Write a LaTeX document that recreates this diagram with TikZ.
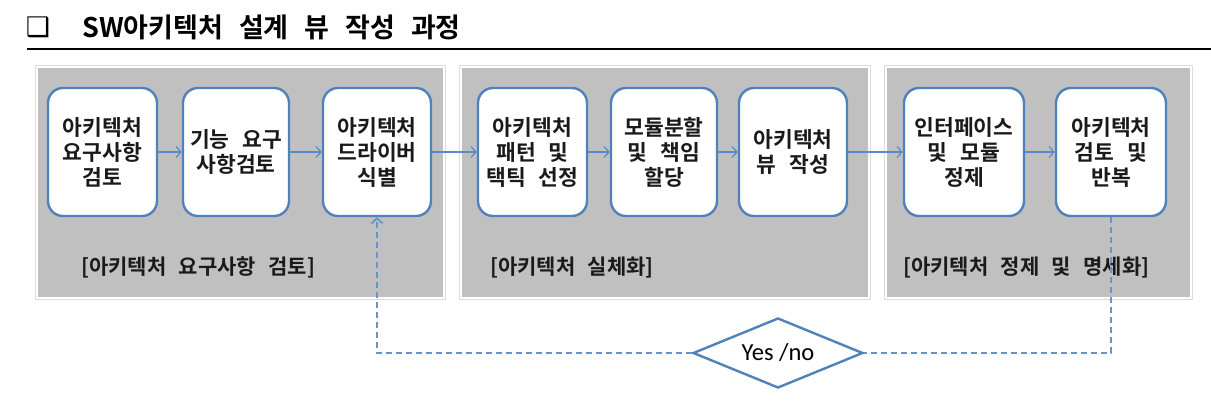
\documentclass[tikz,border=0pt]{standalone}
\usepackage{fontspec}
\usetikzlibrary{arrows.meta,shapes.geometric}
\newfontfamily\krbox{Noto Sans CJK KR Bold}[WordSpace=1.3]
\newfontfamily\krlab{Noto Sans CJK KR Bold}[WordSpace=2.3]
\newfontfamily\krtitle{Noto Sans CJK KR Bold}[WordSpace=2.6]
\newfontfamily\latfont{Carlito}
\newfontfamily\symfont{DejaVu Sans}
\definecolor{boxblue}{HTML}{4F81BD}
\definecolor{arrowblue}{HTML}{5A8AC6}
\definecolor{dashblue}{HTML}{6A93C9}
\definecolor{panelgray}{HTML}{C0C0C0}
\definecolor{framegray}{HTML}{DCDCDC}
\definecolor{txt}{HTML}{1A1A1A}
\tikzset{
  stepbox/.style={draw=boxblue, line width=2.4pt, rounded corners=15pt, fill=white,
    minimum width=#1, minimum height=128pt, align=center, inner sep=0pt, text=txt,
    font=\krbox\fontsize{21.5}{25}\selectfont},
  panelfill/.style={fill=panelgray},
  panelframe/.style={draw=framegray, line width=1pt, fill=white},
  lab/.style={anchor=west, inner sep=0pt, text=txt, font=\krlab\fontsize{21}{22}\selectfont},
  flow/.style={draw=arrowblue, line width=1.2pt, -{Straight Barb[length=5pt,width=11pt]}},
  dashline/.style={draw=dashblue, line width=1.8pt, dash pattern=on 6pt off 4pt},
}
\begin{document}
\begin{tikzpicture}[x=1pt,y=-1pt]
\useasboundingbox (0,0) rectangle (1211,400);
% title
\node[inner sep=0pt, font=\symfont\bfseries\fontsize{27}{28}\selectfont] (chk) at (38,27) {❑};
\node[anchor=base west, inner sep=0pt, font=\krtitle\fontsize{27}{28}\selectfont] (title) at (82,37) {SW아키텍처 설계 뷰 작성 과정};
\draw[line width=1.5pt] (27,49) -- (1211,49);
% panels
\draw[panelframe] (35.5,65.5) rectangle (445.5,299.5);
\fill[panelfill] (38,68) rectangle (443,297);
\draw[panelframe] (459.5,65.5) rectangle (870.5,299.5);
\fill[panelfill] (462,68) rectangle (868,297);
\draw[panelframe] (884.5,65.5) rectangle (1192.5,299.5);
\fill[panelfill] (887,68) rectangle (1190,297);
% boxes
\node[stepbox=109pt] (b1) at (102.5,152) {아키텍처\\요구사항\\검토};
\node[stepbox=106pt] (b2) at (236,152) {기능 요구\\사항검토};
\node[stepbox=108pt] (b3) at (377,152) {아키텍처\\드라이버\\식별};
\node[stepbox=109pt] (b4) at (532.5,152) {아키텍처\\패턴 및\\택틱 선정};
\node[stepbox=106pt] (b5) at (664,152) {모듈분할\\및 책임\\할당};
\node[stepbox=108pt] (b6) at (793,152) {아키텍처\\뷰 작성};
\node[stepbox=120pt] (b7) at (964,152) {인터페이스\\및 모듈\\정제};
\node[stepbox=110pt] (b8) at (1111,152) {아키텍처\\검토 및\\반복};
% flow arrows
\draw[flow] (b1) -- (b2);
\draw[flow] (b2) -- (b3);
\draw[flow] (b3) -- (b4);
\draw[flow] (b4) -- (b5);
\draw[flow] (b5) -- (b6);
\draw[flow] (b6) -- (b7);
\draw[flow] (b7) -- (b8);
% panel labels
\node[lab] (l1) at (81,267) {[아키텍처 요구사항 검토]};
\node[lab] (l2) at (490,267) {[아키텍처 실체화]};
\node[lab] (l3) at (903,267) {[아키텍처 정제 및 명세화]};
% decision
\node[diamond, draw=boxblue, line width=2.4pt, fill=white, aspect=2.4, inner sep=0pt,
      minimum width=170pt, minimum height=70pt, text=black,
      font=\latfont\fontsize{24.5}{26}\selectfont] (d) at (778,353) {Yes /no};
\draw[dashline] (b8.south) |- (d.east);
\draw[dashline, -{Straight Barb[length=5pt,width=11pt]}] (d.west) -| (b3.south);
\end{tikzpicture}
\end{document}
